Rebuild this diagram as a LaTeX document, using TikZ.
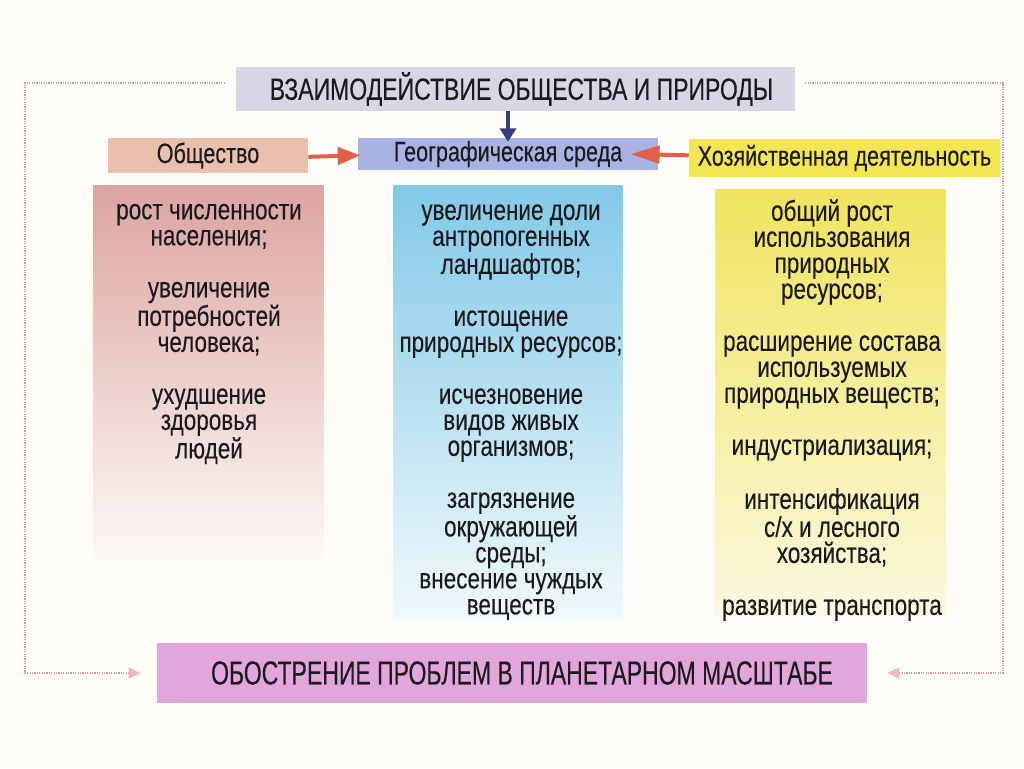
\documentclass[tikz,border=0pt]{standalone}
\usepackage{fontspec}
\setmainfont{Liberation Sans}
\newfontfamily\nara[FakeStretch=0.785,FakeBold=0.2]{Liberation Sans}
\newfontfamily\narh[FakeStretch=0.77,FakeBold=0.2]{Liberation Sans}
\newfontfamily\narb[FakeStretch=0.75,FakeBold=0.25]{Liberation Sans}
\newfontfamily\narc[FakeStretch=0.69,FakeBold=0.15]{Liberation Sans}
\usetikzlibrary{arrows.meta,calc}
\definecolor{bgc}{HTML}{FDFCF7}
\definecolor{txt}{HTML}{1C1A1E}
\definecolor{titlec}{HTML}{DAD5E4}
\definecolor{obshc}{HTML}{E9BFAE}
\definecolor{geoc}{HTML}{A9B3E3}
\definecolor{khozc}{HTML}{F2E653}
\definecolor{botc}{HTML}{E2A6DC}
\definecolor{redar}{HTML}{E0604A}
\definecolor{bluear}{HTML}{3B3A7A}
\definecolor{loopc}{HTML}{C999A8}
\definecolor{looptip}{HTML}{EEB6C6}
\definecolor{lTop}{HTML}{DCA4A0}
\definecolor{lMid}{HTML}{EED2CD}
\definecolor{lBot}{HTML}{FDFAF7}
\definecolor{mTop}{HTML}{82C9E7}
\definecolor{mMid}{HTML}{C2E6F2}
\definecolor{mBot}{HTML}{F1F9FB}
\definecolor{rTop}{HTML}{F0E45E}
\definecolor{rMid}{HTML}{F6EDA2}
\definecolor{rBot}{HTML}{FCF8DF}
\tikzset{
  hbox/.style={inner sep=0pt, text=txt, font=\narh\fontsize{21}{22}\selectfont},
  colbox/.style={inner sep=0pt, anchor=north west},
  coltext/.style={inner sep=0pt, anchor=north, align=center, text=txt,
    font=\nara\fontsize{21.5}{19.5}\selectfont},
  redarrow/.style={draw=redar, line width=3pt,
    -{Triangle[length=17pt,width=13pt,fill=redar]}},
  bluearrow/.style={draw=bluear, line width=3pt,
    -{Triangle[length=10pt,width=12pt,fill=bluear]}},
  loopline/.style={draw=loopc, line width=0.8pt, densely dotted,
    -{Triangle[length=9pt,width=8pt,fill=looptip,color=looptip]}}
}
\newcommand{\fr}{\rule{0pt}{18pt}}
\begin{document}
\begin{tikzpicture}[x=0.75pt,y=-0.75pt]
\useasboundingbox (0,0) rectangle (1024,768);
\fill[bgc] (0,0) rectangle (1024,768);

% title
\node[hbox, fill=titlec, minimum width=559*0.75pt, minimum height=44*0.75pt,
  font=\narb\fontsize{23}{25}\selectfont] (title) at (515.5,89)
  {\hspace*{9pt}ВЗАИМОДЕЙСТВИЕ ОБЩЕСТВА И ПРИРОДЫ};

% header row
\node[hbox, fill=obshc, minimum width=200*0.75pt, minimum height=35*0.75pt] (obsh) at (208,155.5) {Общество};
\node[hbox, fill=geoc, minimum width=300*0.75pt, minimum height=32*0.75pt] (geo) at (508,154) {Географическая среда};
\node[hbox, fill=khozc, minimum width=311*0.75pt, minimum height=38*0.75pt] (khoz) at (844.5,158) {Хозяйственная деятельность};

% columns
\node[colbox, minimum width=230*0.75pt, minimum height=380*0.75pt,
  top color=lTop, middle color=lMid, bottom color=lBot] (colL) at (93,185) {};
\node[colbox, minimum width=229*0.75pt, minimum height=435*0.75pt,
  top color=mTop, middle color=mMid, bottom color=mBot] (colM) at (393,185) {};
\node[colbox, minimum width=230*0.75pt, minimum height=426*0.75pt,
  top color=rTop, middle color=rMid, bottom color=rBot] (colR) at (715,189) {};

\node[coltext] (tL) at (209,195) {\fr рост численности\\ населения;\\[19.5pt]
  увеличение\\ потребностей\\ человека;\\[19.5pt]
  ухудшение\\ здоровья\\ людей};
\node[coltext] (tM) at (511,195.5) {\fr увеличение доли\\ антропогенных\\ ландшафтов;\\[19.5pt]
  истощение\\ природных ресурсов;\\[19.5pt]
  исчезновение\\ видов живых\\ организмов;\\[19.5pt]
  загрязнение\\ окружающей\\ среды;\\ внесение чуждых\\ веществ};
\node[coltext] (tR) at (832,196.5) {\fr общий рост\\ использования\\ природных\\ ресурсов;\\[19.5pt]
  расширение состава\\ используемых\\ природных веществ;\\[19.5pt]
  индустриализация;\\[19.5pt]
  интенсификация\\ с/х и лесного\\ хозяйства;\\[19.5pt]
  развитие транспорта};

% bottom
\node[hbox, fill=botc, minimum width=710*0.75pt, minimum height=60*0.75pt,
  font=\narc\fontsize{25}{27}\selectfont] (bottomb) at (512,673)
  {\hspace*{15pt}ОБОСТРЕНИЕ ПРОБЛЕМ В ПЛАНЕТАРНОМ МАСШТАБЕ};

% arrows
\draw[redarrow] ([yshift=-1pt]obsh.east) -- ([xshift=2pt,yshift=-1pt]geo.west);
\draw[redarrow, -{Triangle[length=22pt,width=13pt,fill=redar]}] ([yshift=-1pt]khoz.west |- geo.east) -- ([xshift=-21pt]geo.east);
\draw[bluearrow] (title.south -| geo.north) -- ([yshift=-3pt]geo.north);

% loop connectors
\coordinate (LT) at (25,83);
\coordinate (LB) at (25,673);
\coordinate (RT) at (1003,83);
\coordinate (RB) at (1003,673);
\draw[loopline] ($(title.west)+(-11,-6)$) -- (LT) -- (LB) -- ($(bottomb.west)+(-16,0)$);
\draw[loopline] ($(title.east)+(10,-6)$) -- (RT) -- (RB) -- ($(bottomb.east)+(20,0)$);
\end{tikzpicture}
\end{document}
